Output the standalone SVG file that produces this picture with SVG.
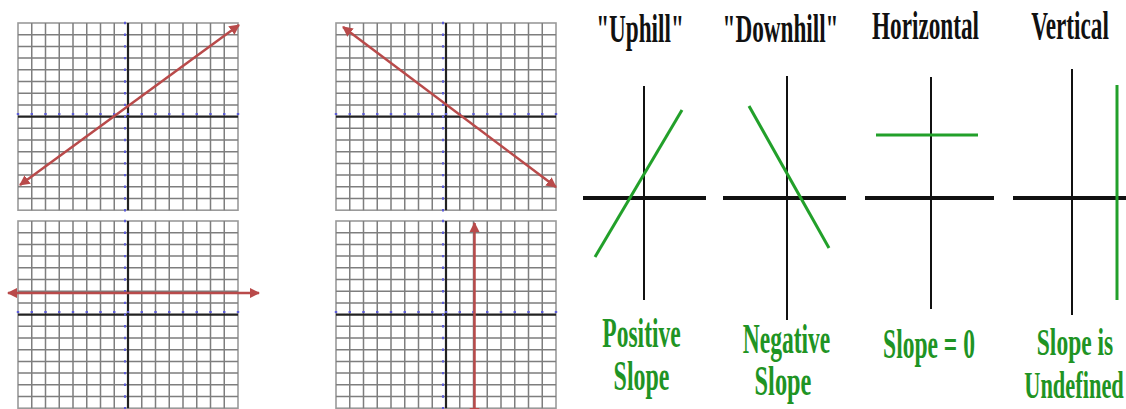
<svg xmlns="http://www.w3.org/2000/svg" xmlns:xlink="http://www.w3.org/1999/xlink" width="1126" height="409" viewBox="0 0 1126 409">
<style>
.gl{fill:none;stroke:#7e7e7e;stroke-width:1.5}
.bd{fill:#fff;stroke:#9a9a9a;stroke-width:1.6}
.axg{stroke:#222;stroke-width:2.2}
.bt{fill:none;stroke:#5b5bd6;stroke-width:2}
.red{stroke:#b94a4a;stroke-width:2.5;fill:none;marker-start:url(#ah);marker-end:url(#ah)}
.vx{stroke:#111;stroke-width:2}
.hx{stroke:#111;stroke-width:4}
.gr{stroke:#22a02a;stroke-width:3}
.t{font-family:"Liberation Serif","Times New Roman",serif;font-weight:bold;font-size:40px;fill:#111;text-anchor:middle}
.g{font-family:"Liberation Serif","Times New Roman",serif;font-weight:bold;font-size:42px;fill:#1f9424;text-anchor:middle}
.g2{font-size:38px}
</style>
<defs>
<marker id="ah" viewBox="0 0 10 10" refX="9" refY="5" markerWidth="4.2" markerHeight="4.2" orient="auto-start-reverse">
<path d="M0 0L10 5L0 10z" fill="#b94a4a"/>
</marker>
<g id="grid">
<rect class="bd" x="0" y="0" width="220" height="187.2"/>
<path class="gl" d="M13.75 0V187.2M27.5 0V187.2M41.25 0V187.2M55 0V187.2M68.75 0V187.2M82.5 0V187.2M96.25 0V187.2M123.75 0V187.2M137.5 0V187.2M151.25 0V187.2M165 0V187.2M178.75 0V187.2M192.5 0V187.2M206.25 0V187.2M0 11.7H220M0 23.4H220M0 35.1H220M0 46.8H220M0 58.5H220M0 70.2H220M0 81.9H220M0 105.3H220M0 117H220M0 128.7H220M0 140.4H220M0 152.1H220M0 163.8H220M0 175.5H220"/>
<line class="axg" x1="110" y1="0" x2="110" y2="187.2"/>
<line class="axg" x1="0" y1="93.6" x2="220" y2="93.6"/>
<line class="bt" x1="107" y1="-1.2" x2="107" y2="188.4" stroke-dasharray="2.4 9.3"/>
<line class="bt" x1="-1.2" y1="91" x2="221.2" y2="91" stroke-dasharray="2.4 11.35"/>
</g>
</defs>

<g id="graph-positive">
<use xlink:href="#grid" href="#grid" transform="translate(18,23)"/>
</g>
<g id="graph-negative">
<use xlink:href="#grid" href="#grid" transform="translate(336,23)"/>
</g>
<g id="graph-zero">
<use xlink:href="#grid" href="#grid" transform="translate(18,221)"/>
</g>
<g id="graph-undefined">
<use xlink:href="#grid" href="#grid" transform="translate(336,221)"/>
</g>

<g id="uphill">
<text class="t" transform="translate(640,42) scale(0.58,1)">"Uphill"</text>
<line class="vx" x1="644" y1="86" x2="644" y2="300"/>
<line class="hx" x1="583" y1="198" x2="706" y2="198"/>
<line class="gr" x1="595" y1="257" x2="682" y2="110"/>
<text class="g" transform="translate(641.5,347) scale(0.56,1)">Positive</text>
<text class="g" transform="translate(641.5,390) scale(0.57,1)">Slope</text>
</g>

<g id="downhill">
<text class="t" transform="translate(780.5,42) scale(0.58,1)">"Downhill"</text>
<line class="vx" x1="787" y1="76" x2="787" y2="320"/>
<line class="hx" x1="723" y1="198" x2="846" y2="198"/>
<line class="gr" x1="749" y1="106" x2="829" y2="248"/>
<text class="g" transform="translate(786.5,353) scale(0.56,1)">Negative</text>
<text class="g" transform="translate(783,395) scale(0.58,1)">Slope</text>
</g>

<g id="horizontal">
<text class="t" transform="translate(925.5,39) scale(0.58,1)">Horizontal</text>
<line class="vx" x1="931" y1="77" x2="931" y2="309"/>
<line class="hx" x1="865" y1="198" x2="994" y2="198"/>
<line class="gr" x1="876" y1="135" x2="978" y2="135"/>
<text class="g" transform="translate(929,358) scale(0.56,1)">Slope = 0</text>
</g>

<g id="vertical">
<text class="t" transform="translate(1070,39) scale(0.58,1)">Vertical</text>
<line class="vx" x1="1072" y1="69" x2="1072" y2="315"/>
<line class="hx" x1="1013" y1="198" x2="1126" y2="198"/>
<line class="gr" x1="1117" y1="85" x2="1117" y2="300"/>
<text class="g g2" transform="translate(1075,355) scale(0.619,1)">Slope is</text>
<text class="g g2" transform="translate(1074,398) scale(0.59,1)">Undefined</text>
</g>

<g id="connectors">
<line class="red" x1="20" y1="185" x2="239" y2="25"/>
<line class="red" x1="343" y1="27" x2="556" y2="187"/>
<line class="red" x1="8" y1="293" x2="259" y2="293"/>
<line class="red" x1="474.5" y1="223" x2="474.5" y2="417"/>
</g>
</svg>
